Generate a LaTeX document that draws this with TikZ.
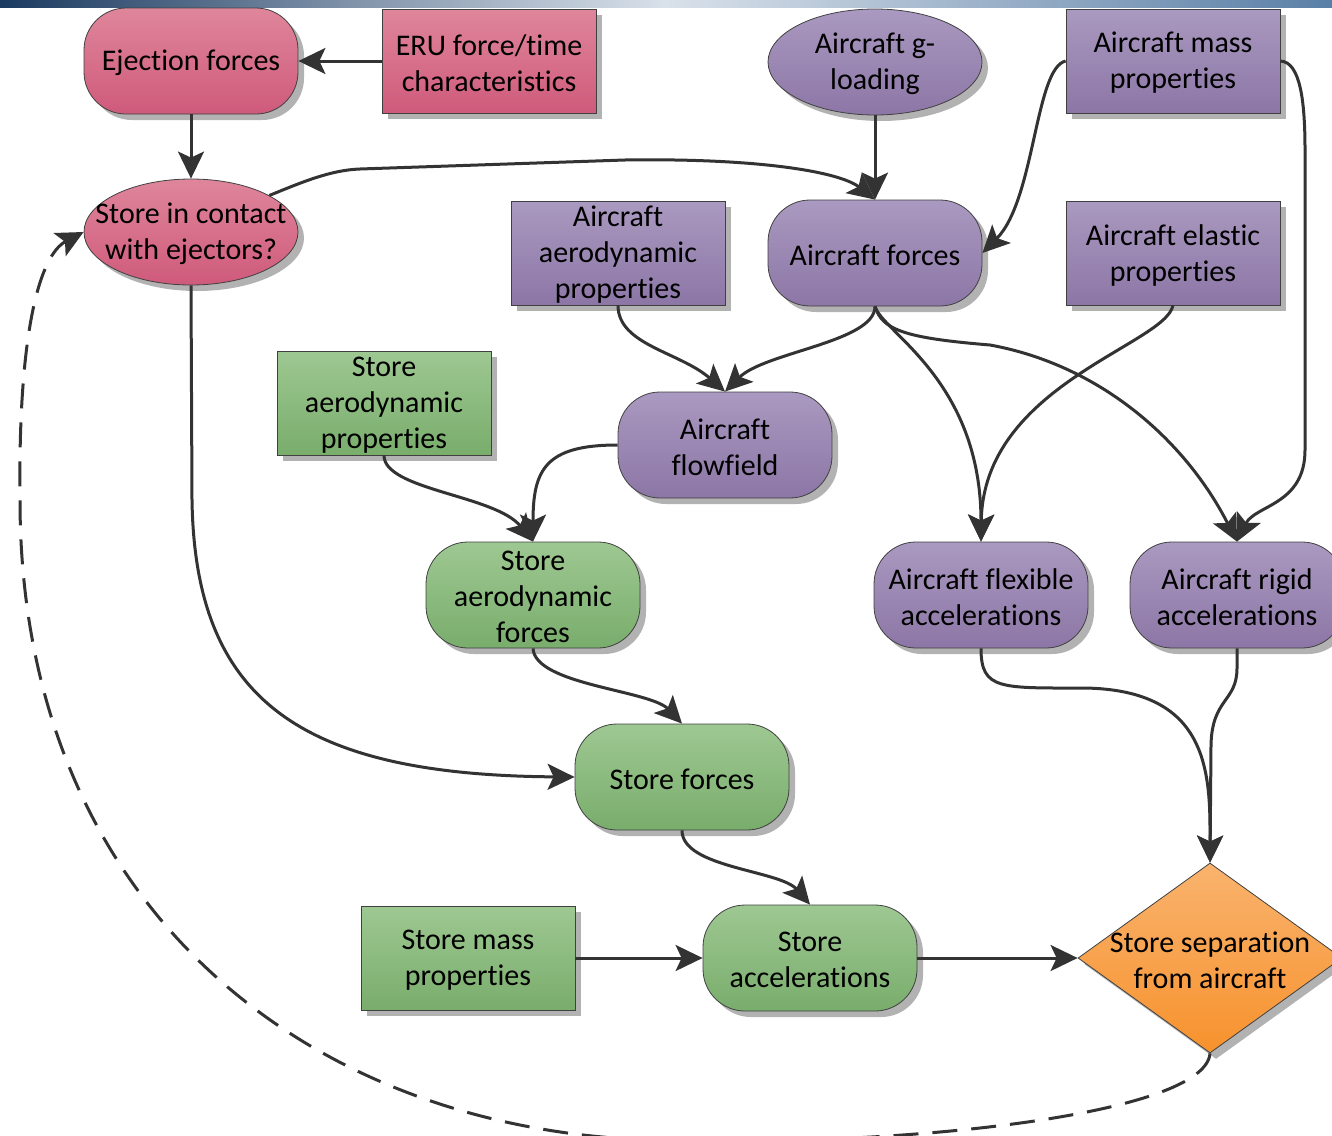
\documentclass[tikz,border=0pt]{standalone}
\usepackage{fontspec}
\setmainfont[Ligatures=NoCommon]{Carlito}
\usetikzlibrary{shapes.geometric,arrows.meta,shadows}

\definecolor{pinkT}{HTML}{DF869B}
\definecolor{pinkB}{HTML}{CF5A7B}
\definecolor{purT}{HTML}{AA99C0}
\definecolor{purB}{HTML}{8C76A6}
\definecolor{grnT}{HTML}{9EC892}
\definecolor{grnB}{HTML}{79AD6C}
\definecolor{orgT}{HTML}{F9B36E}
\definecolor{orgB}{HTML}{F7922D}
\definecolor{linkc}{HTML}{333333}
\definecolor{shadowc}{HTML}{B2B2B2}
\definecolor{barA}{HTML}{1B3A60}
\definecolor{barB}{HTML}{D9E1EA}
\definecolor{barC}{HTML}{5A7FA6}

\tikzset{
  shp/.style={draw=black!75, line width=0.8pt, inner sep=0pt,
    drop shadow={shadow xshift=6pt, shadow yshift=-6pt, fill=shadowc, opacity=1}},
  txt/.style={font=\fontsize{30}{36}\selectfont, align=center, text=black, yshift=-2pt},
  tl/.style={label={[txt]center:{#1}}},
  rbox/.style={shp, rectangle, rounded corners=42pt, minimum width=214pt, minimum height=106pt},
  sbox/.style={shp, rectangle, minimum width=214pt, minimum height=104pt},
  ebox/.style={shp, ellipse, minimum width=214pt, minimum height=106pt},
  pink/.style={top color=pinkT, bottom color=pinkB},
  purple/.style={top color=purT, bottom color=purB},
  green/.style={top color=grnT, bottom color=grnB},
  orange/.style={top color=orgT, bottom color=orgB},
  link/.style={draw=linkc, line width=3pt, -{Stealth[length=27pt,width=26pt,inset=6pt]}},
  loop/.style={link, dash pattern=on 25pt off 14pt},
}

\begin{document}
\begin{tikzpicture}[x=1pt,y=-1pt]
\useasboundingbox (0,0) rectangle (1332,1135);

% header strip
\shade[left color=barA, right color=barB] (0,0) rectangle (666,7);
\shade[left color=barB, right color=barC] (666,0) rectangle (1332,7);

% nodes
\node[rbox, pink, tl={Ejection forces}] (eject) at (191,61) {};
\node[sbox, pink, tl={ERU force/time\\characteristics}] (eru) at (489,61) {};
\node[ebox, purple, tl={Aircraft g-\\loading}] (gload) at (875,62) {};
\node[sbox, purple, tl={Aircraft mass\\properties}] (amass) at (1173,61) {};
\node[ebox, pink, tl={Store in contact\\with ejectors?}] (contact) at (191,232) {};
\node[sbox, purple, tl={Aircraft\\aerodynamic\\properties}] (aaero) at (618,253) {};
\node[rbox, purple, tl={Aircraft forces}] (aforce) at (875,253) {};
\node[sbox, purple, tl={Aircraft elastic\\properties}] (aelast) at (1173,253) {};
\node[sbox, green, tl={Store\\aerodynamic\\properties}] (saero) at (384,403) {};
\node[rbox, purple, tl={Aircraft\\flowfield}] (flow) at (725,445) {};
\node[rbox, green, tl={Store\\aerodynamic\\forces}] (saforce) at (533,595) {};
\node[rbox, purple, tl={Aircraft flexible\\accelerations}] (flex) at (981,595) {};
\node[rbox, purple, tl={Aircraft rigid\\accelerations}] (rigid) at (1237,595) {};
\node[rbox, green, tl={Store forces}] (sforce) at (682,777) {};
\node[sbox, green, tl={Store mass\\properties}] (smass) at (468,958) {};
\node[rbox, green, tl={Store\\accelerations}] (sacc) at (810,958) {};
\node[shp, diamond, orange, minimum width=264pt, minimum height=190pt,
      tl={Store separation\\from aircraft}] (sep) at (1210,958) {};

% connectors
\draw[link] (eru.west) -- (eject.east);
\draw[link] (eject.south) -- (contact.north);
\draw[link] (gload.south) -- (aforce.north);
\draw[link] (contact.25) .. controls (300,183) and (330,170) .. (360,169)
  -- (625,160) .. controls (760,158) and (840,172) .. (aforce.north);
\draw[link] (amass.west) .. controls (1035,68) and (1035,200) .. (aforce.east);
\draw[link] (amass.east) .. controls (1300,62) and (1305,100) .. (1305,150)
  -- (1305,450) .. controls (1305,505) and (1255,505) .. (rigid.north);
\draw[link] (aaero.south) .. controls (618,345) and (680,352) .. (flow.north);
\draw[link] (aforce.south) .. controls (875,342) and (765,352) .. (flow.north);
\draw[link] (aforce.south) .. controls (882,332) and (981,380) .. (flex.north);
\draw[link] (aforce.south) .. controls (882,330) and (905,338) .. (990,345)
  .. controls (1100,365) and (1185,440) .. (rigid.north);
\draw[link] (aelast.south) .. controls (1165,345) and (983,385) .. (flex.north);
\draw[link] (flow.west) .. controls (545,445) and (533,470) .. (saforce.north);
\draw[link] (saero.south) .. controls (384,490) and (495,495) .. (saforce.north);
\draw[link] (contact.south) -- (192,500) .. controls (195,700) and (300,775) .. (sforce.west);
\draw[link] (saforce.south) .. controls (535,685) and (650,690) .. (sforce.north);
\draw[link] (sforce.south) .. controls (682,868) and (780,870) .. (sacc.north);
\draw[link] (smass.east) -- (sacc.west);
\draw[link] (sacc.east) -- (sep.west);
\draw[link] (flex.south) .. controls (981,690) and (1000,688) .. (1085,688)
  .. controls (1200,690) and (1210,760) .. (1210,830) -- (sep.north);
\draw[link] (rigid.south) -- (1237,668) .. controls (1237,702) and (1212,698) .. (1211,745)
  -- (sep.north);
\draw[loop] (sep.south) .. controls (1205,1115) and (900,1148) .. (650,1140)
  .. controls (300,1128) and (20,900) .. (20,500)
  .. controls (18,330) and (40,255) .. (contact.west);
\end{tikzpicture}
\end{document}
